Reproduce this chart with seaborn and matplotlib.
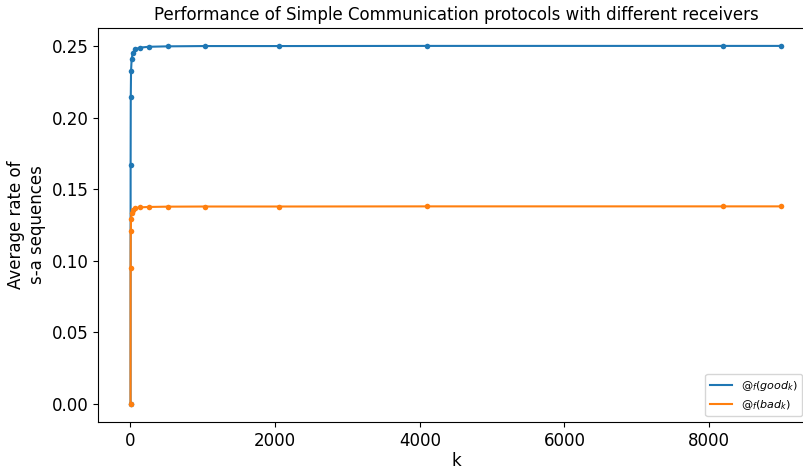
import matplotlib
matplotlib.use("Agg")
import matplotlib.pyplot as plt
from matplotlib.lines import Line2D
import seaborn as sns
import pandas as pd

k_values = [1, 2, 4, 8, 16, 32, 64, 128, 256, 512, 1024, 2048, 4096, 8192, 9000]
good_rate = [0.0, 0.1667, 0.214, 0.2326, 0.2407, 0.2453, 0.2476, 0.2488, 0.2494,
             0.2497, 0.2499, 0.2499, 0.25, 0.25, 0.25]
bad_rate = [0.0, 0.095, 0.1205, 0.1293, 0.1335, 0.1355, 0.1367, 0.1373, 0.1376,
            0.1378, 0.1379, 0.1379, 0.138, 0.138, 0.138]
series_labels = [r"$@_f(good_k)$", r"$@_f(bad_k)$"]
colors = ["#1f77b4", "#ff7f0e"]

plt.rcParams["font.family"] = ["DejaVu Sans"]

df = pd.DataFrame({
    "k": k_values * 2,
    "rate": good_rate + bad_rate,
    "series": [series_labels[0]] * len(k_values) + [series_labels[1]] * len(k_values),
})

fig = plt.figure(figsize=(8.04, 4.70), dpi=100)
ax = fig.add_axes([98 / 804, 48 / 470, (814 - 98) / 804, (422 - 28) / 470])
sns.lineplot(data=df, x="k", y="rate", hue="series", marker="o", markersize=4,
             markeredgewidth=0, palette=colors, linewidth=1.5,
             ax=ax, legend=False)
ax.tick_params(labelsize=12)
ax.set_xlabel("k", fontsize=12, labelpad=2)
ax.set_ylabel("Average rate of\ns-a sequences", fontsize=12)
ax.set_title("Performance of Simple Communication protocols with different receivers", fontsize=12)
ax.set_yticks([0.0, 0.05, 0.10, 0.15, 0.20, 0.25])
ax.set_yticklabels(["0.00", "0.05", "0.10", "0.15", "0.20", "0.25"])
handles = [Line2D([], [], color=c, linewidth=1.5) for c in colors]
ax.legend(handles, series_labels, loc="lower right", fontsize=8,
          bbox_to_anchor=(0.991, 0.0), borderaxespad=0.5)
fig.savefig("out.png", dpi=100)
